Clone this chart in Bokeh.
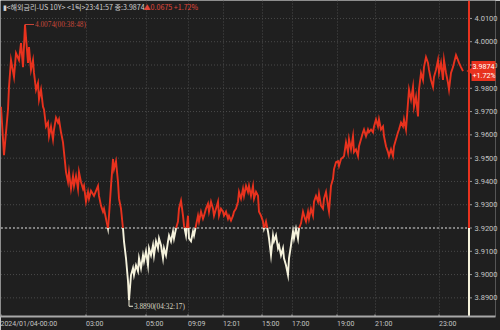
import math
from bokeh.plotting import figure
from bokeh.models import Range1d, FixedTicker, Label, NumeralTickFormatter
from bokeh.embed import file_html
from bokeh.resources import INLINE

# tick sequence position (x) and price (y)
seq = [0, 3, 7, 8, 10, 13, 15, 18, 20, 22, 24, 27, 28, 30, 32, 33, 35, 37, 38, 40,
       42, 43, 45, 47, 48, 50, 52, 53, 55, 57, 58, 60, 62, 63, 65, 67, 68, 70, 72, 73,
       75, 77, 78, 80, 82, 83, 85, 87, 88, 90, 93, 97, 98, 100, 102, 103, 105, 107, 108, 110,
       112, 113, 115, 117, 118, 120, 122, 123, 125, 127, 128, 130, 132, 133, 135, 137, 138, 140, 142, 143,
       145, 147, 148, 150, 152, 153, 155, 157, 158, 160, 162, 163, 165, 167, 168, 170, 172, 173, 175, 177,
       178, 180, 182, 183, 185, 187, 188, 190, 192, 193, 195, 197, 198, 200, 202, 203, 205, 207, 208, 210,
       212, 213, 215, 217, 218, 220, 222, 223, 225, 227, 228, 230, 232, 233, 235, 237, 238, 240, 242, 243,
       245, 247, 248, 250, 252, 253, 255, 257, 258, 260, 262, 263, 265, 267, 268, 270, 272, 273, 275, 277,
       278, 280, 282, 283, 285, 287, 288, 290, 292, 293, 295, 297, 298, 300, 302, 304, 305, 307, 308, 310,
       312, 313, 315, 317, 318, 320, 322, 323, 325, 327, 328, 330, 332, 333, 335, 337, 338, 340, 342, 343,
       345, 347, 348, 350, 352, 353, 355, 357, 358, 360, 362, 363, 365, 367, 368, 370, 372, 373, 375, 377,
       378, 380, 382, 383, 385, 387, 388, 390, 392, 393, 395, 397, 398, 400, 402, 403, 405, 407, 408, 410,
       412, 413, 415, 417, 418, 420, 422, 423, 425, 427, 428, 430, 432, 433, 435, 437, 438, 440, 442, 443,
       445, 447, 448, 450, 452, 453, 455, 457, 458, 460, 462]

price = [3.9721, 3.9513, 3.9709, 3.9806, 3.9921, 3.9849, 3.9951, 3.9921, 3.9994, 3.9891,
         4.0074, 3.9909, 3.9977, 3.9879, 3.9921, 3.9866, 3.9794, 3.9823, 3.9751, 3.9794,
         3.9721, 3.9709, 3.9636, 3.9653, 3.9594, 3.9636, 3.9581, 3.9623, 3.9674, 3.9653,
         3.9666, 3.9611, 3.9568, 3.9526, 3.9440, 3.9398, 3.9440, 3.9368, 3.9423, 3.9381,
         3.9423, 3.9368, 3.9440, 3.9398, 3.9368, 3.9381, 3.9313, 3.9355, 3.9326, 3.9360,
         3.9338, 3.9381, 3.9338, 3.9296, 3.9270, 3.9283, 3.9240, 3.9198, 3.9253, 3.9381,
         3.9496, 3.9453, 3.9487, 3.9398, 3.9326, 3.9283, 3.9198, 3.9143, 3.9070, 3.8972,
         3.8890, 3.8998, 3.9028, 3.8998, 3.9040, 3.9015, 3.9070, 3.9028, 3.9083, 3.9057,
         3.9100, 3.9040, 3.9113, 3.9083, 3.9126, 3.9083, 3.9143, 3.9113, 3.9155, 3.9126,
         3.9070, 3.9113, 3.9083, 3.9143, 3.9168, 3.9143, 3.9185, 3.9155, 3.9198, 3.9228,
         3.9283, 3.9317, 3.9253, 3.9211, 3.9168, 3.9253, 3.9155, 3.9143, 3.9185, 3.9168,
         3.9211, 3.9253, 3.9228, 3.9270, 3.9240, 3.9253, 3.9283, 3.9304, 3.9270, 3.9313,
         3.9283, 3.9253, 3.9283, 3.9313, 3.9253, 3.9283, 3.9270, 3.9253, 3.9270, 3.9240,
         3.9253, 3.9232, 3.9253, 3.9270, 3.9283, 3.9313, 3.9355, 3.9326, 3.9368, 3.9338,
         3.9381, 3.9355, 3.9381, 3.9338, 3.9381, 3.9326, 3.9355, 3.9338, 3.9270, 3.9253,
         3.9228, 3.9198, 3.9228, 3.9185, 3.9155, 3.9083, 3.9168, 3.9143, 3.9168, 3.9113,
         3.9126, 3.9083, 3.9113, 3.9070, 3.9040, 3.8998, 3.9070, 3.9126, 3.9185, 3.9155,
         3.9198, 3.9155, 3.9198, 3.9220, 3.9270, 3.9240, 3.9228, 3.9270, 3.9240, 3.9283,
         3.9253, 3.9313, 3.9338, 3.9313, 3.9347, 3.9296, 3.9283, 3.9326, 3.9355, 3.9296,
         3.9270, 3.9381, 3.9411, 3.9453, 3.9483, 3.9487, 3.9466, 3.9496, 3.9504, 3.9509,
         3.9568, 3.9526, 3.9581, 3.9538, 3.9594, 3.9526, 3.9538, 3.9509, 3.9551, 3.9581,
         3.9611, 3.9623, 3.9594, 3.9623, 3.9611, 3.9623, 3.9611, 3.9636, 3.9666, 3.9636,
         3.9666, 3.9623, 3.9636, 3.9594, 3.9551, 3.9526, 3.9509, 3.9538, 3.9509, 3.9551,
         3.9581, 3.9611, 3.9623, 3.9653, 3.9636, 3.9666, 3.9623, 3.9738, 3.9794, 3.9751,
         3.9806, 3.9721, 3.9764, 3.9679, 3.9794, 3.9866, 3.9836, 3.9891, 3.9934, 3.9909,
         3.9879, 3.9836, 3.9806, 3.9849, 3.9879, 3.9921, 3.9866, 3.9909, 3.9836, 3.9921,
         3.9866, 3.9823, 3.9794, 3.9866, 3.9891, 3.9909, 3.9943, 3.9921, 3.9909, 3.9891,
         3.9874]

prev_close = 3.92
last_price = 3.9874
last_change_pct = "+1.72%"
change_text = "▲0.0675 +1.72%"
header_text = "▮<해외금리-US 10Y> <1틱>23:41:57 종:3.9874"
high_text = "4.0074(00:38:48)"
low_text = "3.8890(04:32:17)"

xtick_pos = [0, 85, 145, 187, 222, 261, 291, 336, 374, 438]
xtick_labels = ["2024/01/04-00:00", "03:00", "05:00", "09:09", "12:01",
                "15:00", "17:00", "19:00", "21:00", "23:00"]
ytick_vals = [3.89, 3.90, 3.91, 3.92, 3.93, 3.94, 3.95, 3.96, 3.97, 3.98, 3.99, 4.00, 4.01]

BG = "#1f1f1f"
RED = "#e8321e"
CREAM = "#f5f2dc"
GRID = "#4a4a4a"
TXT = "#c4c4c4"
FONT = "Roboto"
Y0, Y1 = 3.8820, 4.0177
X_END = 468          # position of the price-axis line
XLAB_PX = 7.0        # x tick label font size

# split the series into runs above / below the previous close
runs_x, runs_y, runs_c = [], [], []
cur_x, cur_y = [seq[0]], [price[0]]
cur_above = price[0] >= prev_close
for i in range(1, len(seq)):
    x0, y0, x1, y1 = seq[i - 1], price[i - 1], seq[i], price[i]
    above = y1 >= prev_close
    if above != cur_above:
        xc = x0 + (prev_close - y0) / (y1 - y0) * (x1 - x0)
        cur_x.append(xc); cur_y.append(prev_close)
        runs_x.append(cur_x); runs_y.append(cur_y); runs_c.append(RED if cur_above else CREAM)
        cur_x, cur_y = [xc], [prev_close]
        cur_above = above
    cur_x.append(x1); cur_y.append(y1)
runs_x.append(cur_x); runs_y.append(cur_y); runs_c.append(RED if cur_above else CREAM)

# the frame covers nearly the whole width; the price labels are drawn over its right strip
p = figure(width=500, height=330, output_backend="svg", toolbar_location=None,
           x_range=Range1d(-0.5, 494.5), y_range=Range1d(Y0, Y1),
           y_axis_location="right", min_border=0,
           min_border_left=0, min_border_right=3, min_border_top=0, min_border_bottom=0)
p.background_fill_color = BG
p.border_fill_color = BG
p.outline_line_color = None

# vertical grid
p.xgrid.ticker = FixedTicker(ticks=xtick_pos[1:])
p.xgrid.grid_line_color = GRID
p.xgrid.grid_line_dash = "1 2"
p.ygrid.grid_line_color = None

# horizontal grid, stopping at the price-axis line
n = len(ytick_vals)
p.segment(x0=[0] * n, y0=ytick_vals, x1=[X_END] * n, y1=ytick_vals,
          line_color=GRID, line_dash="1 2", line_width=1)

# x axis: labels sit just right of each time mark
label_pos = [t + 1.0 + len(l) * XLAB_PX * 0.22 for t, l in zip(xtick_pos, xtick_labels)]
xa = p.xaxis[0]
xa.ticker = FixedTicker(ticks=label_pos)
xa.major_label_overrides = {t: l for t, l in zip(label_pos, xtick_labels)}
xa.major_label_text_font = FONT
xa.major_label_text_font_size = "%.1fpx" % XLAB_PX
xa.major_label_text_color = TXT
xa.major_label_standoff = 1
xa.axis_line_color = "#a8a8a8"
xa.axis_line_width = 2
xa.major_tick_line_color = None
xa.major_tick_in = 0
xa.major_tick_out = 2
xa.minor_tick_line_color = None

# y axis (right): negative standoff pulls the labels back over the frame strip
ya = p.yaxis[0]
ya.ticker = FixedTicker(ticks=ytick_vals)
ya.formatter = NumeralTickFormatter(format="0.0000")
ya.major_label_text_font = FONT
ya.major_label_text_font_size = "7.5px"
ya.major_label_text_color = TXT
ya.major_label_standoff = -21
ya.axis_line_color = None
ya.major_tick_line_color = None
ya.major_tick_in = 0
ya.major_tick_out = 0
ya.minor_tick_line_color = None

# price-axis tick marks
p.segment(x0=[X_END] * n, y0=ytick_vals, x1=[X_END + 3] * n, y1=ytick_vals,
          line_color="#9a9a9a", line_width=1)

# previous close reference line
p.line([0, X_END], [prev_close, prev_close], line_color="#d8d8d8", line_dash="2 2", line_width=1)

# small time marks just above the axis line
p.segment(x0=xtick_pos, y0=[Y0] * len(xtick_pos), x1=xtick_pos, y1=[Y0 + 0.0009] * len(xtick_pos),
          line_color="#b0b0b0", line_width=1)

# price line
p.multi_line(xs=runs_x, ys=runs_y, line_color=runs_c, line_width=1.9, line_join="miter")

# vertical price-axis line, coloured by side of previous close
p.segment(x0=[X_END, X_END], y0=[prev_close, Y0], x1=[X_END, X_END], y1=[Y1, prev_close],
          line_color=[RED, CREAM], line_width=2)

# high / low markers
hi_i = price.index(max(price))
lo_i = price.index(min(price))
hx, hy = seq[hi_i], price[hi_i]
lx, ly = seq[lo_i], price[lo_i]
p.line([hx, hx + 9], [hy, hy], line_color="#c8483a", line_width=1)
p.text(x=[hx + 10], y=[hy], text=[high_text], text_color="#c8483a",
       text_font_size="7.3px", text_baseline="middle", text_font=FONT)
p.line([lx, lx, lx + 4], [ly, ly - 0.0026, ly - 0.0026], line_color=CREAM, line_width=1)
p.text(x=[lx + 5], y=[ly - 0.0026], text=[low_text], text_color="#d8d4c0",
       text_font_size="7.3px", text_baseline="middle", text_font=FONT)

# header
p.add_layout(Label(x=2, y=Y1 - 0.0026, x_units="screen", y_units="data", text=header_text,
                   text_color="#cfcfcf", text_font_size="7.1px", text_font="Noto Sans CJK KR",
                   text_baseline="middle"))
p.add_layout(Label(x=143, y=Y1 - 0.0026, x_units="screen", y_units="data", text=change_text,
                   text_color="#e0463a", text_font_size="7.1px", text_font="Noto Sans CJK KR",
                   text_baseline="middle"))

# last price tag with a small pointer
p.scatter(x=[X_END + 1.5], y=[last_price], marker="triangle", size=7, angle=math.pi / 2,
          fill_color=RED, line_color=None)
p.add_layout(Label(x=X_END + 2.5, y=last_price, x_units="data", y_units="data",
                   text="%.4f\n%s" % (last_price, last_change_pct), text_color="white",
                   text_font_size="7.2px", text_font=FONT, text_baseline="middle",
                   text_align="left", text_line_height=1.0,
                   background_fill_color=RED, padding=1))

open("out.html", "w").write(file_html(p, INLINE))
